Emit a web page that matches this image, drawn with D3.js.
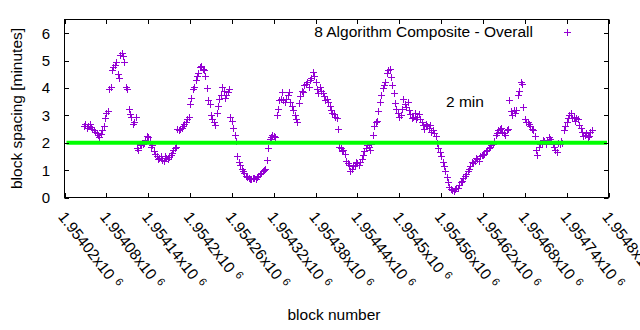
<body style="margin:0">
  <script src="https://d3js.org/d3.v7.min.js"></script>
  <script>

    var svgArea = { width: 640, height: 330 };
    var plot = { left: 64.5, top: 19.5, right: 608.5, bottom: 197.5 };

    // x ticks every 60 blocks, gnuplot-style labels (mantissa x10^6)
    var xTicks = [1954020, 1954080, 1954140, 1954200, 1954260, 1954320, 1954380,
                  1954440, 1954500, 1954560, 1954620, 1954680, 1954740, 1954800];
    var xTickLabels = ['1.95402', '1.95408', '1.95414', '1.9542', '1.95426', '1.95432', '1.95438',
                       '1.95444', '1.9545', '1.95456', '1.95462', '1.95468', '1.95474', '1.9548'];
    var yTicks = [0, 1, 2, 3, 4, 5, 6];

    var targetSpacing = 2;

    // composite block spacing, one sample every 2 blocks
    var startBlock = 1954048;
    var blockStep = 2;
    var spacing = [
      2.62, 2.70, 2.55, 2.60, 2.68, 2.58, 2.50, 2.45, 2.40, 2.35,
      2.28, 2.22, 2.32, 2.45, 2.60, 2.90, 3.10, 3.15, 3.95, 4.05,
      4.65, 4.75, 4.85, 4.95, 4.50, 4.35, 5.20, 5.28, 5.15, 4.95,
      4.05, 3.95, 3.25, 3.05, 2.95, 2.70, 2.75, 2.95, 1.80, 1.72,
      1.95, 1.90, 1.95, 2.00, 2.10, 2.25, 2.20, 2.05, 1.85, 1.90,
      1.70, 1.60, 1.50, 1.40, 1.45, 1.50, 1.38, 1.35, 1.50, 1.45,
      1.42, 1.48, 1.55, 1.62, 1.75, 1.80, 1.85, 2.50, 2.45, 2.50,
      2.55, 2.60, 2.70, 2.75, 2.85, 2.95, 3.40, 3.65, 3.95, 4.05,
      4.30, 4.45, 4.55, 4.75, 4.80, 4.70, 4.65, 4.45, 4.00, 3.55,
      3.40, 3.00, 2.85, 2.75, 2.65, 3.10, 3.35, 3.60, 3.75, 4.05,
      3.90, 3.65, 3.75, 3.85, 3.95, 2.95, 2.80, 2.55, 2.30, 2.05,
      1.50, 1.30, 1.20, 1.05, 0.95, 0.90, 0.80, 0.75, 0.72, 0.66,
      0.68, 0.72, 0.70, 0.68, 0.75, 0.80, 0.85, 0.90, 0.95, 1.00,
      1.05, 1.38, 1.80, 2.15, 2.20, 2.30, 2.25, 2.20, 3.00, 3.25,
      3.55, 3.60, 3.85, 3.55, 3.50, 3.60, 3.75, 3.85, 3.50, 3.35,
      3.20, 3.00, 2.85, 2.75, 3.45, 3.70, 3.90, 3.85, 4.10, 4.15,
      4.20, 4.05, 4.30, 4.35, 4.60, 4.45, 4.20, 3.95, 3.80, 4.05,
      3.90, 3.80, 3.70, 3.55, 3.60, 3.50, 3.35, 3.20, 3.10, 3.05,
      2.95, 2.90, 2.50, 1.85, 1.80, 1.70, 1.75, 1.60, 1.35, 1.25,
      1.20, 0.98, 1.05, 1.15, 1.20, 1.30, 1.25, 1.20, 1.30, 1.40,
      1.55, 1.70, 1.80, 1.90, 1.85, 1.75, 1.95, 2.30, 2.60, 2.75,
      2.80, 3.15, 3.50, 3.75, 4.00, 4.10, 4.20, 4.55, 4.65, 4.70,
      4.40, 4.10, 3.80, 3.45, 3.25, 3.10, 2.95, 3.00, 3.25, 3.60,
      3.40, 3.30, 3.50, 3.20, 3.05, 2.90, 2.95, 3.10, 2.85, 2.95,
      3.05, 2.85, 2.75, 2.65, 2.50, 2.70, 2.60, 2.55, 2.65, 2.40,
      2.45, 2.35, 2.25, 2.00, 1.80, 1.65, 1.50, 1.30, 1.15, 0.95,
      0.75, 0.55, 0.40, 0.30, 0.28, 0.25, 0.30, 0.35, 0.35, 0.45,
      0.55, 0.62, 0.70, 0.80, 0.85, 0.95, 1.05, 1.15, 1.30, 1.25,
      1.35, 1.45, 1.40, 1.35, 1.50, 1.55, 1.55, 1.60, 1.70, 1.75,
      1.80, 1.85, 1.90, 1.95, 2.05, 2.30, 2.35, 2.45, 2.50, 2.55,
      2.40, 2.35, 2.30, 2.45, 2.50, 3.55, 3.15, 3.00, 3.20, 3.10,
      3.20, 3.75, 3.90, 4.20, 4.15, 3.30, 2.85, 2.75, 2.75, 2.70,
      2.60, 2.50, 2.45, 2.25, 1.75, 1.55, 1.85, 1.95, 2.00, 2.10,
      2.05, 1.95, 2.10, 2.20, 2.15, 2.05, 1.95, 1.85, 1.75, 1.65,
      2.00, 1.95, 2.05, 2.00, 2.45, 2.60, 2.75, 2.90, 3.00, 3.10,
      2.90, 2.95, 2.80, 2.90, 2.85, 2.65, 2.55, 2.40, 2.25, 2.30,
      2.35, 2.20, 2.25, 2.40, 2.45
    ];

    var points = spacing.map((v, i) => ({ block: startBlock + i * blockStep, value: v }));

    var font = "'Liberation Sans', Arial, sans-serif";
    var purple = '#9400d3';
    var crossPath = 'M-3.5,0H3.5M0,-3.5V3.5';

    const svg = d3.select('body').append('svg')
      .attr('width', svgArea['width'])
      .attr('height', svgArea['height'])
      .style('background', '#fff')
      .style('font-family', font);

    var xScale = d3.scaleLinear()
      .domain([xTicks[0], xTicks[xTicks.length - 1]])
      .range([plot.left, plot.right]);

    var yScale = d3.scaleLinear()
      .domain([0, 6.5])
      .range([plot.bottom, plot.top]);

    // data crosses
    svg.append('g')
      .selectAll('path')
      .data(points)
      .join('path')
        .attr('d', crossPath)
        .attr('transform', d => `translate(${Math.round(xScale(d.block)) + 0.5},${Math.round(yScale(d.value)) + 0.5})`)
        .attr('stroke', purple)
        .attr('stroke-width', 1)
        .attr('fill', 'none');

    // 2 minute target line
    svg.append('line')
      .attr('x1', plot.left + 2)
      .attr('x2', plot.right - 1.5)
      .attr('y1', yScale(targetSpacing))
      .attr('y2', yScale(targetSpacing))
      .attr('stroke', '#00ff00')
      .attr('stroke-width', 4);

    // ticks on all four sides, pointing inwards
    var tickLen = 4.5;
    var ticks = svg.append('g').attr('stroke', '#000').attr('stroke-width', 1);
    xTicks.forEach(t => {
      var x = Math.round(xScale(t)) + 0.5;
      ticks.append('line').attr('x1', x).attr('x2', x).attr('y1', plot.bottom).attr('y2', plot.bottom - tickLen);
      ticks.append('line').attr('x1', x).attr('x2', x).attr('y1', plot.top).attr('y2', plot.top + tickLen);
    });
    yTicks.forEach(t => {
      var y = Math.round(yScale(t)) + 0.5;
      ticks.append('line').attr('x1', plot.left).attr('x2', plot.left + tickLen).attr('y1', y).attr('y2', y);
      ticks.append('line').attr('x1', plot.right).attr('x2', plot.right - tickLen).attr('y1', y).attr('y2', y);
    });

    // frame
    svg.append('rect')
      .attr('x', plot.left)
      .attr('y', plot.top)
      .attr('width', plot.right - plot.left)
      .attr('height', plot.bottom - plot.top)
      .attr('fill', 'none')
      .attr('stroke', '#000')
      .attr('stroke-width', 1);

    // y tick labels
    svg.append('g')
      .selectAll('text')
      .data(yTicks)
      .join('text')
        .attr('x', 50)
        .attr('y', d => yScale(d) + 5.5)
        .attr('text-anchor', 'end')
        .attr('font-size', 15)
        .attr('fill', '#000')
        .text(d => d);

    // rotated x tick labels
    var xl = svg.append('g')
      .selectAll('text')
      .data(xTicks)
      .join('text')
        .attr('transform', d => `translate(${xScale(d) - 7},${217}) rotate(52)`)
        .attr('font-size', 15.5)
        .attr('fill', '#000');
    xl.append('tspan').text((d, i) => xTickLabels[i] + 'x10');
    xl.append('tspan')
      .attr('dx', 5)
      .attr('dy', -5)
      .attr('font-size', 11)
      .text('6');

    // axis titles
    svg.append('text')
      .attr('transform', `translate(22,${(plot.top + plot.bottom) / 2}) rotate(-90)`)
      .attr('text-anchor', 'middle')
      .attr('font-size', 15.5)
      .text('block spacing [minutes]');

    svg.append('text')
      .attr('x', 334)
      .attr('y', 320)
      .attr('text-anchor', 'middle')
      .attr('font-size', 15.5)
      .text('block number');

    // key
    svg.append('text')
      .attr('x', 533)
      .attr('y', 37)
      .attr('text-anchor', 'end')
      .attr('font-size', 15.5)
      .text('8 Algorithm Composite - Overall');
    svg.append('path')
      .attr('d', crossPath)
      .attr('transform', 'translate(567.5,32.5)')
      .attr('stroke', purple)
      .attr('fill', 'none');

    svg.append('text')
      .attr('x', 446)
      .attr('y', 107)
      .attr('font-size', 15.5)
      .text(targetSpacing + ' min');

  </script>
</body>
